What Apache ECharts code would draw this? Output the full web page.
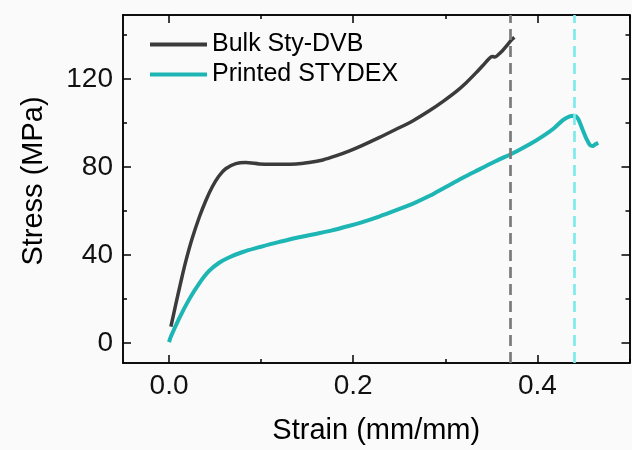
<!DOCTYPE html>
<html>
<head>
<meta charset="utf-8">
<script src="https://cdn.jsdelivr.net/npm/echarts@6/dist/echarts.min.js"></script>
<style>
html,body{margin:0;padding:0;background:#fafafa;}
#c{width:632px;height:450px;}
</style>
</head>
<body>
<div id="c"></div>
<script>
const seriesNames = ['Bulk Sty-DVB', 'Printed STYDEX'];
const bulkStrain = [0.002, 0.0073, 0.0127, 0.018, 0.025, 0.033, 0.040, 0.047, 0.054, 0.0615, 0.0725, 0.083, 0.098, 0.109, 0.123, 0.138, 0.152, 0.167, 0.181, 0.196, 0.210, 0.228, 0.246, 0.265, 0.283, 0.298, 0.312, 0.323, 0.333, 0.341, 0.348, 0.351, 0.354, 0.358, 0.362, 0.367, 0.371, 0.375];
const bulkStress = [7.5, 17.6, 27.6, 36.9, 47.4, 57.4, 64.8, 71.0, 75.8, 79.2, 81.5, 82.0, 81.4, 81.2, 81.2, 81.3, 82.0, 83.2, 85.0, 87.3, 89.8, 93.3, 97.0, 101.0, 105.6, 109.9, 114.3, 118.4, 122.6, 126.2, 129.4, 130.2, 129.9, 131.2, 132.8, 135.2, 137.3, 138.8];
const printStrain = [0.0, 0.002, 0.011, 0.022, 0.033, 0.0435, 0.054, 0.065, 0.080, 0.098, 0.110, 0.123, 0.141, 0.159, 0.176, 0.196, 0.210, 0.228, 0.246, 0.265, 0.283, 0.300, 0.319, 0.337, 0.355, 0.375, 0.392, 0.406, 0.418, 0.428, 0.435, 0.440, 0.444, 0.449, 0.453, 0.457, 0.460, 0.463, 0.466];
const printStress = [0.5, 3.0, 11.3, 20.0, 27.3, 32.8, 36.4, 38.9, 41.4, 43.6, 45.0, 46.3, 48.1, 49.6, 51.1, 53.3, 55.0, 57.5, 60.3, 63.4, 66.9, 70.8, 75.1, 78.9, 82.7, 86.6, 90.4, 94.0, 97.6, 101.4, 103.0, 103.3, 102.0, 97.0, 93.0, 90.0, 89.5, 90.3, 91.0];
const breakStrain = [0.374, 0.441];
const xMajorTicks = [0, 0.2, 0.4];
const xMinorTicks = [0.1, 0.3, 0.5];
const yMajorTicks = [0, 40, 80, 120];
const yMinorTicks = [20, 60, 100, 140];

const FONT = '"Liberation Sans", Arial, sans-serif';
const lineColors = ['#3b3b3b', '#1db6b4'];
const dashColors = ['#7a7a7a', '#7feaea'];

function pairs(xs, ys) { return xs.map((x, i) => [x, ys[i]]); }

const axLine = { show: true, onZero: false, lineStyle: { color: '#000', width: 1.5 } };
function xAx(pos, ticks, len, labels, extra) {
  return Object.assign({
    type: 'value', position: pos, min: -0.05, max: 0.5,
    axisLine: axLine,
    axisTick: { show: true, inside: true, length: len, customValues: ticks, lineStyle: { color: '#000', width: 1.5 } },
    axisLabel: labels ? { show: true, customValues: ticks, margin: 9, fontSize: 28, color: '#111', fontFamily: FONT, formatter: v => v.toFixed(1) } : { show: false },
    splitLine: { show: false }
  }, extra || {});
}
function yAx(pos, ticks, len, labels, extra) {
  return Object.assign({
    type: 'value', position: pos, min: -9, max: 149,
    axisLine: axLine,
    axisTick: { show: true, inside: true, length: len, customValues: ticks, lineStyle: { color: '#000', width: 1.5 } },
    axisLabel: labels ? { show: true, customValues: ticks, margin: 10, fontSize: 28, color: '#111', fontFamily: FONT } : { show: false },
    splitLine: { show: false }
  }, extra || {});
}

const chart = echarts.init(document.getElementById('c'));
chart.setOption({
  backgroundColor: '#fafafa',
  animation: false,
  grid: { left: 123, top: 15, right: 2.5, bottom: 85, containLabel: false },
  legend: {
    orient: 'vertical', left: 145, top: 27, itemWidth: 57, itemHeight: 4, itemGap: 5,
    icon: 'rect',
    textStyle: { fontSize: 25, fontFamily: FONT, color: '#000', lineHeight: 25 },
    data: seriesNames
  },
  xAxis: [
    xAx('bottom', xMajorTicks, 8, true, {
      name: 'Strain (mm/mm)', nameLocation: 'middle', nameGap: 53,
      nameTextStyle: { fontSize: 29, fontFamily: FONT, color: '#000' }
    }),
    xAx('bottom', xMinorTicks, 4, false),
    xAx('top', xMajorTicks, 8, false),
    xAx('top', xMinorTicks, 4, false)
  ],
  yAxis: [
    yAx('left', yMajorTicks, 8, true, {
      name: 'Stress (MPa)', nameLocation: 'middle', nameGap: 75,
      nameTextStyle: { fontSize: 29, fontFamily: FONT, color: '#000', padding: [0, 0, 0, 16] }
    }),
    yAx('left', yMinorTicks, 4, false),
    yAx('right', yMajorTicks, 8, false),
    yAx('right', yMinorTicks, 4, false)
  ],
  series: [
    {
      name: seriesNames[0], type: 'line', xAxisIndex: 0, yAxisIndex: 0,
      data: pairs(bulkStrain, bulkStress), symbol: 'none', smooth: 0.3,
      lineStyle: { color: lineColors[0], width: 3.5 }, itemStyle: { color: lineColors[0] },
      markLine: { silent: true, symbol: 'none', label: { show: false },
        lineStyle: { color: dashColors[0], width: 2.7, type: [11, 6] },
        data: [{ xAxis: breakStrain[0] }] }
    },
    {
      name: seriesNames[1], type: 'line', xAxisIndex: 0, yAxisIndex: 0,
      data: pairs(printStrain, printStress), symbol: 'none', smooth: 0.3,
      lineStyle: { color: lineColors[1], width: 4 }, itemStyle: { color: lineColors[1] },
      markLine: { silent: true, symbol: 'none', label: { show: false },
        lineStyle: { color: dashColors[1], width: 2.7, type: [11, 6] },
        data: [{ xAxis: breakStrain[1] }] }
    }
  ]
});
</script>
</body>
</html>
